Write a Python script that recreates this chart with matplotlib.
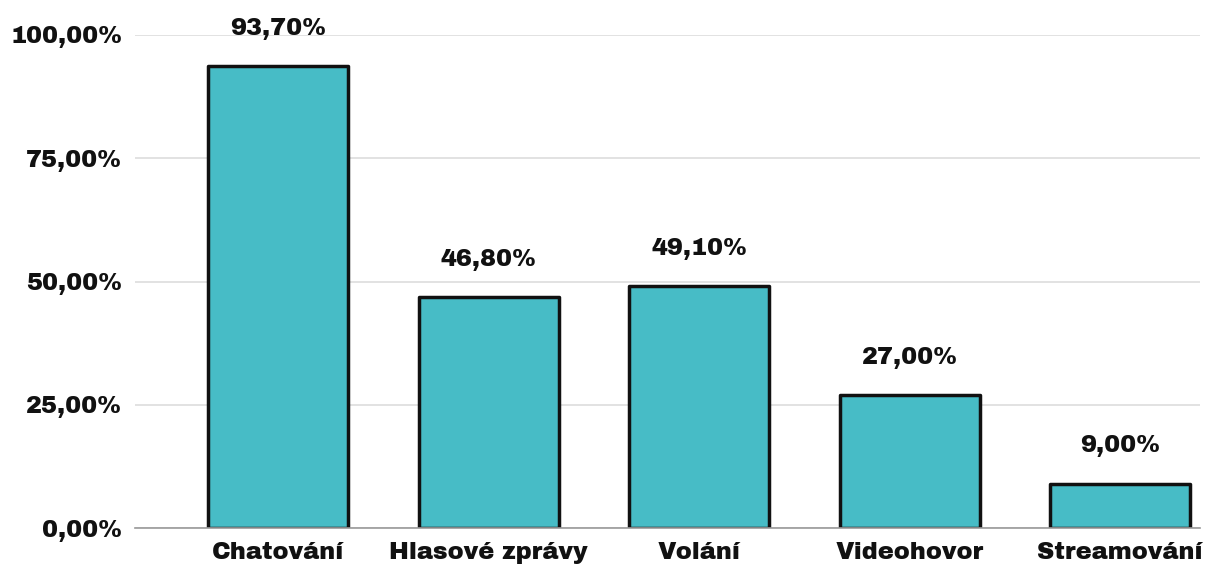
import matplotlib
matplotlib.use("Agg")
import matplotlib.pyplot as plt

categories = ["Chatování", "Hlasové zprávy", "Volání", "Videohovor", "Streamování"]
values = [93.7, 46.8, 49.1, 27.0, 9.0]
yticks = [0, 25, 50, 75, 100]
ytick_labels = ["0,00%", "25,00%", "50,00%", "75,00%", "100,00%"]

plt.rcParams['font.family'] = ['Archivo Black', 'DejaVu Sans']
FS = 17.3

fig = plt.figure(figsize=(12.06, 5.65), dpi=100)
ax = fig.add_axes([135/1206, 1-528/565, 1065/1206, (528-35)/565])

x = list(range(len(categories)))
bars = ax.bar(x, values, width=0.665, color="#47bcc6", edgecolor="#111111",
              linewidth=2.5, zorder=3)
for b in bars:
    b.set_joinstyle('round')

for xi, v in zip(x, values):
    ax.annotate(f"{v:.2f}%".replace(".", ","), (xi, v), xytext=(0, 19),
                textcoords="offset points", ha="center", va="bottom",
                fontsize=FS, color="#111111")

ax.set_xlim(-0.68, 4.38)
ax.set_ylim(0, 100)
ax.set_yticks(yticks)
ax.set_yticklabels(ytick_labels, fontsize=FS, color="#111111")
ax.set_xticks(x)
ax.set_xticklabels(categories, fontsize=FS, color="#111111")
ax.tick_params(axis='both', length=0)
ax.tick_params(axis='y', pad=9)
ax.tick_params(axis='x', pad=10)
ax.yaxis.grid(True, color="#dddddd", linewidth=1.2, zorder=0)
for s in ["top", "right", "left"]:
    ax.spines[s].set_visible(False)
ax.spines["bottom"].set_color("#999999")
ax.spines["bottom"].set_linewidth(1.2)
ax.spines["bottom"].set_zorder(4)

fig.savefig("out.png", dpi=100)
